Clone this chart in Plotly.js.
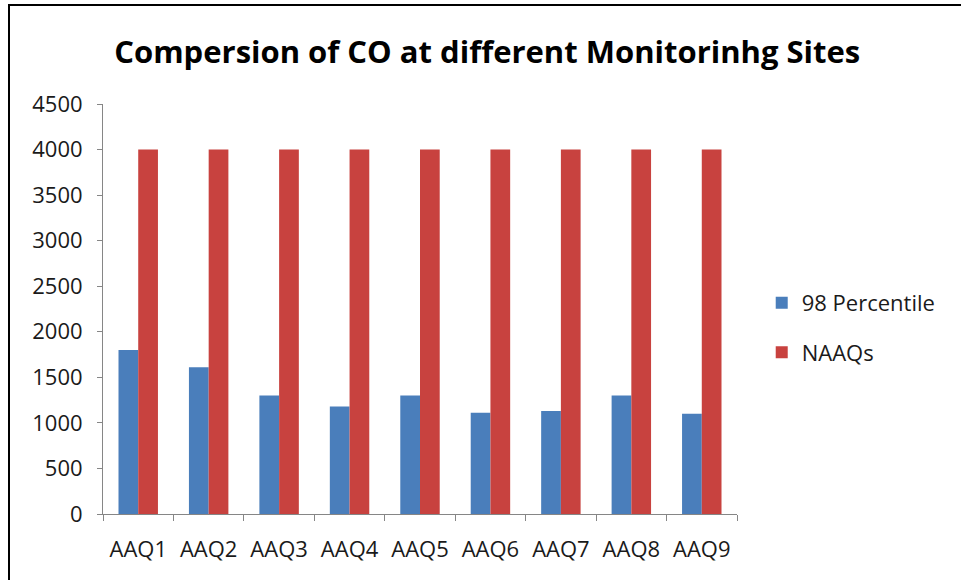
<!DOCTYPE html>
<html>
<head>
<meta charset="utf-8">
<script src="https://cdn.plot.ly/plotly-3.0.1.min.js"></script>
<style>
  html, body { margin: 0; padding: 0; background: #fff; }
  #chart { width: 961px; height: 580px; }
  #frame { position: absolute; left: 8px; top: 4px; width: 960px; height: 580px;
           border-left: 2px solid #000; border-top: 2px solid #000; pointer-events: none; }
</style>
</head>
<body>
<div id="chart"></div>
<div id="frame"></div>
<script>
const sites = ["AAQ1", "AAQ2", "AAQ3", "AAQ4", "AAQ5", "AAQ6", "AAQ7", "AAQ8", "AAQ9"];
const percentile98 = [1800, 1610, 1300, 1180, 1300, 1110, 1130, 1300, 1100];
const naaqs = [4000, 4000, 4000, 4000, 4000, 4000, 4000, 4000, 4000];
const yTicks = [0, 500, 1000, 1500, 2000, 2500, 3000, 3500, 4000, 4500];

const traces = [
  { type: "bar", name: "98 Percentile", x: sites, y: percentile98,
    marker: { color: "#4a7ebb" }, legendgroup: "a" },
  { type: "bar", name: "NAAQs", x: sites, y: naaqs,
    marker: { color: "#c8423f" }, legendgroup: "b" }
];

const layout = {
  width: 961, height: 580,
  margin: { l: 103, r: 224, t: 104, b: 66, autoexpand: false },
  paper_bgcolor: "#fff", plot_bgcolor: "#fff",
  font: { family: "Open Sans, sans-serif", size: 22, color: "#1a1a1a" },
  title: { text: "<b>Compersion of CO at different Monitorinhg Sites</b>",
           font: { family: "Open Sans, sans-serif", size: 31, color: "#000" },
           xref: "container", x: 0.507, xanchor: "center",
           yref: "container", y: 0.91, yanchor: "middle" },
  barmode: "group", bargap: 0.44, bargroupgap: 0,
  showlegend: true,
  legend: { x: 1.039, xanchor: "left", y: 0.454, yanchor: "middle",
            traceorder: "grouped", tracegroupgap: 18,
            font: { size: 22, color: "#1a1a1a" }, bgcolor: "rgba(0,0,0,0)" },
  xaxis: { type: "category", showline: true, linecolor: "#868686", linewidth: 1,
           ticks: "outside", tickson: "boundaries", ticklen: 6, tickcolor: "#868686",
           showgrid: false, zeroline: false, ticklabelstandoff: 16 },
  yaxis: { range: [0, 4500], tickvals: yTicks, showline: true, linecolor: "#868686",
           linewidth: 1, ticks: "outside", ticklen: 5, tickcolor: "#868686",
           showgrid: false, zeroline: false, ticklabelstandoff: 10 }
};

Plotly.newPlot("chart", traces, layout, { displayModeBar: false, staticPlot: true });
</script>
</body>
</html>
